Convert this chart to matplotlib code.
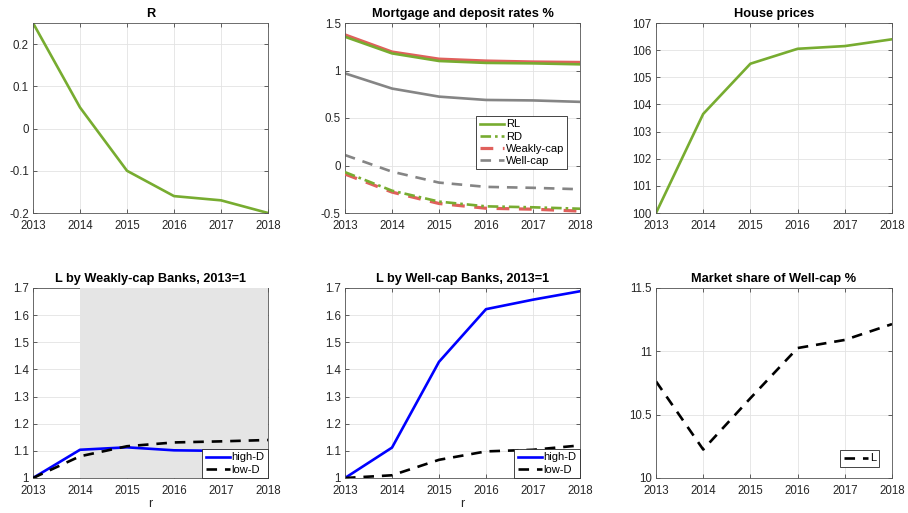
import matplotlib.pyplot as plt

plt.rcParams["font.family"] = ["Liberation Sans", "DejaVu Sans"]

years = [2013, 2014, 2015, 2016, 2017, 2018]

# Policy rate
r_policy = [0.25, 0.05, -0.10, -0.16, -0.17, -0.20]

# Mortgage and deposit rates %
rl_green = [1.355, 1.18, 1.10, 1.08, 1.075, 1.065]
rl_weak = [1.375, 1.195, 1.12, 1.10, 1.09, 1.085]
rl_well = [0.97, 0.81, 0.725, 0.69, 0.685, 0.67]
rd_green = [-0.07, -0.265, -0.38, -0.43, -0.44, -0.455]
rd_weak = [-0.09, -0.28, -0.40, -0.45, -0.46, -0.48]
rd_well = [0.11, -0.065, -0.18, -0.225, -0.235, -0.25]

# House prices
house = [100.0, 103.65, 105.5, 106.05, 106.15, 106.4]

# Lending by bank type, 2013=1
weak_high = [1.0, 1.104, 1.113, 1.102, 1.100, 1.096]
weak_low = [1.0, 1.08, 1.117, 1.131, 1.135, 1.14]
well_high = [1.0, 1.112, 1.428, 1.622, 1.657, 1.688]
well_low = [1.0, 1.01, 1.067, 1.098, 1.104, 1.12]

# Market share of well-capitalised banks %
share = [10.763, 10.225, 10.63, 11.026, 11.09, 11.215]

GREEN = "#77AC30"
RED = "#E0605C"
GREY = "#858585"
TXT = "#262626"
LW = 1.9


def style(ax, title, ylim, yticks, ylabels=None):
    ax.set_title(title, fontsize=9.2, fontweight="bold", color="black", pad=4)
    ax.set_xlim(2013, 2018)
    ax.set_xticks(years)
    ax.set_ylim(*ylim)
    ax.set_yticks(yticks)
    if ylabels is not None:
        ax.set_yticklabels(ylabels)
    ax.grid(True, color="#e3e3e3", linewidth=0.6)
    ax.set_axisbelow(True)
    ax.tick_params(direction="in", length=3, width=0.5, labelsize=8.3,
                   colors=TXT, top=True, right=True)
    ax.tick_params(axis="x", pad=5)
    ax.tick_params(axis="y", pad=3)
    for s in ax.spines.values():
        s.set_color("#555555")
        s.set_linewidth(0.6)


def legend(ax, **kw):
    leg = ax.legend(fontsize=8, fancybox=False, framealpha=1, edgecolor="#262626",
                    handlelength=2.2, handletextpad=0.15, borderpad=0.3,
                    labelspacing=0.2, **kw)
    leg.get_frame().set_linewidth(0.6)
    return leg


fig = plt.figure(figsize=(9.08, 5.13), dpi=100)
W, H = 908, 513


def add_axes(left, top, right, bottom):
    return fig.add_axes([left / W, 1 - bottom / H, (right - left) / W, (bottom - top) / H])


ax1 = add_axes(33, 23, 268, 213)
ax2 = add_axes(345, 23, 580, 213)
ax3 = add_axes(656, 23, 892, 213)
ax4 = add_axes(33, 288, 268, 478)
ax5 = add_axes(345, 288, 580, 478)
ax6 = add_axes(656, 288, 892, 478)

# R
ax1.plot(years, r_policy, color=GREEN, lw=LW)
style(ax1, "R", (-0.2, 0.25), [-0.2, -0.1, 0, 0.1, 0.2], ["-0.2", "-0.1", "0", "0.1", "0.2"])

# Mortgage and deposit rates
ax2.plot(years, rl_weak, color=RED, lw=LW + 0.4)
ax2.plot(years, rl_green, color=GREEN, lw=LW, label="RL")
ax2.plot(years, rd_green, color=GREEN, lw=LW, ls=(0, (4, 1.5, 1, 1.5)), label="RD", zorder=3)
ax2.plot(years, rd_weak, color=RED, lw=LW + 0.4, ls=(0, (4, 3)), label="Weakly-cap", zorder=2.8)
ax2.plot(years, rd_well, color=GREY, lw=LW, ls=(0, (4, 3)), label="Well-cap")
ax2.plot(years, rl_well, color=GREY, lw=LW)
style(ax2, "Mortgage and deposit rates %", (-0.5, 1.5), [-0.5, 0, 0.5, 1, 1.5],
      ["-0.5", "0", "0.5", "1", "1.5"])
legend(ax2, loc="lower right", bbox_to_anchor=(0.97, 0.2))

# House prices
ax3.plot(years, house, color=GREEN, lw=LW)
style(ax3, "House prices", (100, 107), list(range(100, 108)))

# L by weakly-cap banks
ax4.axvspan(2014, 2018, color="#e5e5e5", zorder=2.6, lw=0)
ax4.plot(years, weak_high, color="#0000FF", lw=LW, label="high-D", zorder=3)
ax4.plot(years, weak_low, color="black", lw=LW, ls=(0, (4, 3)), label="low-D", zorder=3)
style(ax4, "L by Weakly-cap Banks, 2013=1", (1, 1.7),
      [1, 1.1, 1.2, 1.3, 1.4, 1.5, 1.6, 1.7],
      ["1", "1.1", "1.2", "1.3", "1.4", "1.5", "1.6", "1.7"])
ax4.set_xlabel("r", fontsize=9, color=TXT, labelpad=1)
legend(ax4, loc="lower right", bbox_to_anchor=(1, 0), borderaxespad=0)

# L by well-cap banks
ax5.plot(years, well_high, color="#0000FF", lw=LW, label="high-D")
ax5.plot(years, well_low, color="black", lw=LW, ls=(0, (4, 3)), label="low-D")
style(ax5, "L by Well-cap Banks, 2013=1", (1, 1.7),
      [1, 1.1, 1.2, 1.3, 1.4, 1.5, 1.6, 1.7],
      ["1", "1.1", "1.2", "1.3", "1.4", "1.5", "1.6", "1.7"])
ax5.set_xlabel("r", fontsize=9, color=TXT, labelpad=1)
legend(ax5, loc="lower right", bbox_to_anchor=(1, 0), borderaxespad=0)

# Market share
ax6.plot(years, share, color="black", lw=LW, ls=(0, (4, 3)), label="L")
style(ax6, "Market share of Well-cap %", (10, 11.5), [10, 10.5, 11, 11.5],
      ["10", "10.5", "11", "11.5"])
legend(ax6, loc="lower right", bbox_to_anchor=(0.97, 0.03))

fig.savefig("out.png", dpi=100)
